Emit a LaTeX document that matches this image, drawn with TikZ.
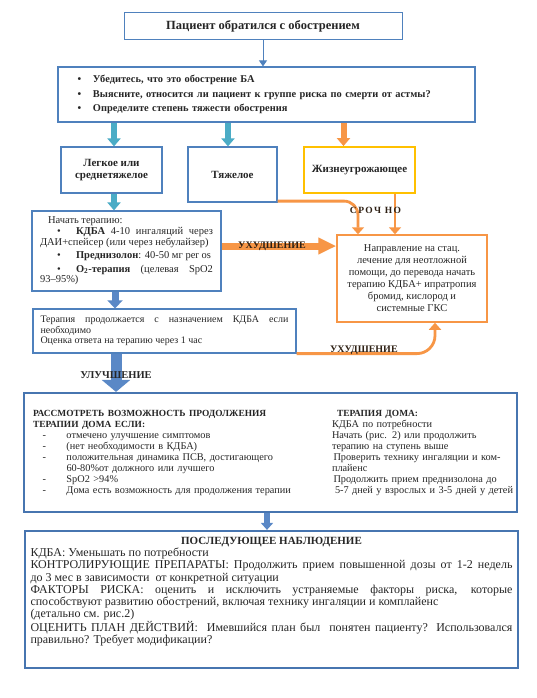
\documentclass[tikz,border=0pt]{standalone}
\usepackage{fontspec}
\setmainfont{Liberation Serif}
\usetikzlibrary{arrows.meta,shadows}
\definecolor{boxblue}{HTML}{4F81BD}
\definecolor{deepblue}{HTML}{4775B0}
\definecolor{arrcyan}{HTML}{4BACC6}
\definecolor{arrblue}{HTML}{5A88C6}
\definecolor{arrorange}{HTML}{F79646}
\definecolor{goldline}{HTML}{FFC000}
\definecolor{txt}{HTML}{262626}
\definecolor{labelbrown}{HTML}{2E2014}
\begin{document}
\begin{tikzpicture}[x=1pt,y=-1pt,
  plainbox/.style={draw=boxblue,line width=1.2pt,fill=white,inner sep=0pt,text=txt},
  bigbox/.style={draw=deepblue,line width=2.2pt,fill=white,inner sep=0pt,text=txt,
    drop shadow={shadow xshift=1.2pt,shadow yshift=-1.2pt,opacity=0.35}},
  sevfont/.style={font=\fontsize{11}{12}\selectfont\bfseries},
  cyanarrow/.style={draw=arrcyan,line width=6pt,-{Triangle[width=13pt,length=8pt]}},
  orangedown/.style={draw=arrorange,line width=6pt,-{Triangle[width=13pt,length=8pt]}},
  orangeline/.style={draw=arrorange,line width=2.8pt,-{Triangle[width=12pt,length=7pt]}},
  arrlabel/.style={text=labelbrown,font=\fontsize{10}{11}\selectfont\bfseries,inner sep=1pt}]
\useasboundingbox[fill=white] (0,0) rectangle (537,698);

% boxes
\node[plainbox,line width=1pt,minimum width=278pt,minimum height=27.5pt,
  font=\fontsize{12.5}{14}\selectfont\bfseries] (start) at (263,26.25) {Пациент обратился с обострением};

\node[plainbox,minimum width=417pt,minimum height=55pt,text width=378pt,align=left,
  font=\fontsize{10.4}{14.5}\selectfont\bfseries] (assess) at (266.5,94.5)
  {\makebox[15.5pt][l]{\textbullet}Убедитесь, что это обострение БА\\
   \makebox[15.5pt][l]{\textbullet}Выясните, относится ли пациент к группе риска по смерти от астмы?\\
   \makebox[15.5pt][l]{\textbullet}Определите степень тяжести обострения};

\node[plainbox,sevfont,minimum width=101pt,minimum height=46pt,align=center] (mild) at (111.5,170) {Легкое или\\среднетяжелое};
\node[plainbox,sevfont,minimum width=89pt,minimum height=55pt] (severe) at (232.5,174.5) {Тяжелое};
\node[plainbox,sevfont,draw=goldline,line width=1.8pt,minimum width=111pt,minimum height=46pt] (life) at (359.5,170) {Жизнеугрожающее};

\node[plainbox,minimum width=189pt,minimum height=80pt,text width=173pt,align=justify,
  font=\fontsize{10.5}{10.8}\selectfont] (therapy) at (126.5,251)
  {\hspace*{8pt}Начать терапию:\\
   \hspace*{17pt}\makebox[19pt][l]{\textbullet}\textbf{КДБА} 4-10 ингаляций через\linebreak
   ДАИ+спейсер (или через небулайзер)\\[2.5pt]
   \hspace*{17pt}\makebox[19pt][l]{\textbullet}\textbf{Преднизолон}: 40-50 мг per os\\[2.5pt]
   \hspace*{17pt}\makebox[19pt][l]{\textbullet}\textbf{O\textsubscript{2}-терапия} (целевая SpO2\linebreak
   93–95\%)};

\node[draw=arrorange,line width=1.5pt,fill=white,inner sep=0pt,text=txt,minimum width=150pt,
  minimum height=87pt,align=center,font=\fontsize{10.5}{12}\selectfont] (direction) at (412,278.5)
  {Направление на стац.\\лечение для неотложной\\помощи, до перевода начать\\терапию КДБА+ ипратропия\\бромид, кислород и\\системные ГКС};

\node[plainbox,minimum width=263pt,minimum height=44pt,text width=248pt,align=justify,
  font=\fontsize{10}{10.5}\selectfont] (cont) at (164.5,331)
  {Терапия продолжается с назначением КДБА если\linebreak необходимо\\Оценка ответа на терапию через 1 час};

\node[bigbox,minimum width=493pt,minimum height=119pt,text width=475pt,align=left,
  font=\fontsize{10.3}{11}\selectfont] (home) at (270.5,452.5)
  {\begin{tabular}{@{}p{33.5pt}@{}p{265.5pt}@{}l@{}}
   \multicolumn{2}{@{}l@{}}{\fontsize{9.4}{11}\selectfont\bfseries РАССМОТРЕТЬ ВОЗМОЖНОСТЬ ПРОДОЛЖЕНИЯ} & \hspace*{5pt}{\fontsize{9.4}{11}\selectfont\bfseries ТЕРАПИЯ ДОМА:}\\
   \multicolumn{2}{@{}l@{}}{\fontsize{9.4}{11}\selectfont\bfseries ТЕРАПИИ ДОМА ЕСЛИ:} & КДБА по потребности\\
   \hspace*{9.5pt}- & отмечено улучшение симптомов & Начать (рис. 2) или продолжить\\
   \hspace*{9.5pt}- & (нет необходимости в КДБА) & терапию на ступень выше\\
   \hspace*{9.5pt}- & положительная динамика ПСВ, достигающего & \hspace*{1.5pt}Проверить технику ингаляции и ком-\\
    & 60-80\%от должного или лучшего & плайенс\\
   \hspace*{9.5pt}- & SpO2 >94\% & \hspace*{1.5pt}Продолжить прием преднизолона до\\
   \hspace*{9.5pt}- & Дома есть возможность для продолжения терапии & \hspace*{3pt}5-7 дней у взрослых и 3-5 дней у детей
   \end{tabular}};

\node[bigbox,minimum width=493pt,minimum height=137pt,font=\fontsize{12}{12.1}\selectfont] (follow) at (271.5,599.5)
  {\parbox[c][131pt][t]{482pt}{\vspace*{3.5pt}%
   {\centering\fontsize{11}{12.1}\selectfont\bfseries ПОСЛЕДУЮЩЕЕ НАБЛЮДЕНИЕ\par}
   КДБА: Уменьшать по потребности\\
   КОНТРОЛИРУЮЩИЕ ПРЕПАРАТЫ: Продолжить прием повышенной дозы от 1-2 недель\linebreak
   до 3 мес в зависимости\ \ от конкретной ситуации\\
   ФАКТОРЫ РИСКА: оценить и исключить устраняемые факторы риска, которые\linebreak
   способствуют развитию обострений, включая технику ингаляции и комплайенс\\
   (детально см. рис.2)\\
   ОЦЕНИТЬ ПЛАН ДЕЙСТВИЙ:\ \ Имевшийся план был\ \ понятен пациенту? Использовался\linebreak
   правильно? Требует модификации?}};

% connectors
\draw[boxblue,line width=1pt,-{Triangle[width=8pt,length=6pt]}] (start.south) -- (start.south |- assess.north);
\draw[cyanarrow] ([xshift=2.5pt]mild.north |- assess.south) -- ([xshift=2.5pt]mild.north);
\draw[cyanarrow] ([xshift=-4.5pt]severe.north |- assess.south) -- ([xshift=-4.5pt]severe.north);
\draw[orangedown] ([xshift=-16pt]life.north |- assess.south) -- ([xshift=-16pt]life.north);
\draw[cyanarrow] ([xshift=2.5pt]mild.south) -- ([xshift=2.5pt]mild.south |- therapy.north);

\draw[draw=arrorange,line width=7pt,-{Triangle[width=16pt,length=18pt]}]
  ([yshift=5pt]therapy.east) -- ([yshift=5pt]therapy.east -| direction.west)
  node[arrlabel,pos=0.44] (worse1) {УХУДШЕНИЕ};

\draw[orangeline,rounded corners=14pt] ([yshift=1.5pt]severe.south east) -| ([xshift=-54pt]direction.north);
\draw[orangeline] ([xshift=35.5pt]life.south) -- ([xshift=35.5pt]life.south |- direction.north);
\node[text=labelbrown,font=\fontsize{9.5}{10}\selectfont\bfseries] (urgent) at (375.5,210)
  {\addfontfeature{LetterSpace=15}СРОЧ НО};

\draw[draw=arrblue,line width=7pt,-{Triangle[width=15pt,length=8pt]}]
  ([xshift=-11.5pt]therapy.south) -- ([xshift=-11.5pt]therapy.south |- cont.north);

\draw[orangeline,rounded corners=18pt] (cont.south east) -| ([xshift=23pt]direction.south)
  node[arrlabel,pos=0.243,yshift=3pt] (worse2) {УХУДШЕНИЕ};

\draw[draw=arrblue,line width=11pt,-{Triangle[width=28pt,length=12pt]}]
  ([xshift=-48.5pt]cont.south) -- ([xshift=-48.5pt]cont.south |- home.north)
  node[pos=0.55,text=txt,font=\fontsize{10.5}{11}\selectfont\bfseries,inner sep=1pt] (better) {УЛУЧШЕНИЕ};

\draw[draw=arrblue,line width=6pt,-{Triangle[width=12pt,length=7pt]}]
  ([xshift=-3.5pt]home.south) -- ([xshift=-3.5pt]home.south |- follow.north);
\end{tikzpicture}
\end{document}
